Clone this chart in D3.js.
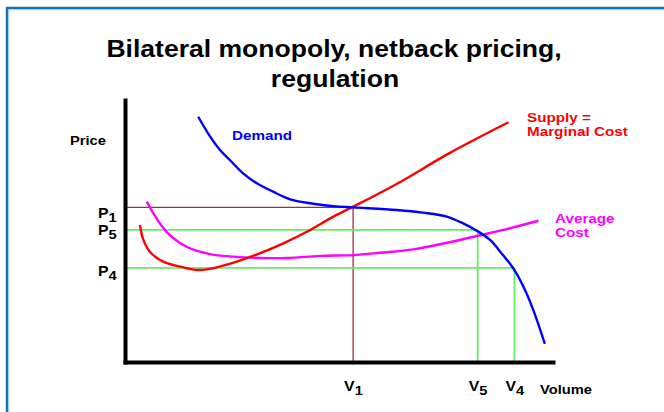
<!DOCTYPE html>
<html>
<head>
<meta charset="utf-8">
<script src="https://cdn.jsdelivr.net/npm/d3@7"></script>
<style>
  body { margin: 0; background: #fff; }
  svg { display: block; font-family: "Liberation Sans", Arial, sans-serif; }
  .lbl { font-weight: bold; }
</style>
</head>
<body>
<svg id="chart" width="664" height="412"></svg>
<script>
// curve points: [volume, price], both on a 0..100 scale
const demandPts = [
  [17.1, 93.6], [19.9, 86.0], [22.2, 80.9], [24.5, 77.1], [27.6, 72.0],
  [30.8, 68.2], [34.6, 65.0], [38.6, 62.1], [43.2, 60.6], [48.7, 59.5],
  [53.3, 59.0], [63.5, 58.0], [69.6, 57.0], [75.2, 55.5], [79.0, 52.9],
  [82.2, 50.1], [85.3, 46.6], [88.3, 40.8], [90.7, 35.8], [93.1, 28.7],
  [95.4, 19.8], [98.1, 6.9]
];
const supplyPts = [
  [3.5, 52.3], [4.3, 46.6], [5.8, 42.1], [8.9, 38.3], [12.9, 36.4],
  [17.1, 35.1], [20.6, 35.8], [26.1, 38.3], [31.5, 41.5], [37.0, 45.3],
  [42.5, 49.7], [48.7, 55.5], [53.3, 59.3], [57.2, 62.5], [64.3, 68.7],
  [75.9, 79.8], [89.6, 91.5]
];
const avgCostPts = [
  [5.1, 61.2], [6.6, 56.8], [9.7, 49.7], [14.4, 44.0], [19.9, 41.2],
  [25.3, 40.2], [31.5, 39.7], [37.8, 39.7], [45.6, 40.5], [53.3, 40.8],
  [59.6, 41.7], [67.4, 43.0], [75.2, 45.5], [82.2, 48.1], [88.4, 50.4],
  [96.6, 53.9]
];

// price / volume levels and the guide lines joining them
const priceNames = ['P1', 'P5', 'P4'];
const priceVals = [59.0, 50.4, 35.9];
const volumeNames = ['V1', 'V5', 'V4'];
const volumeVals = [53.3, 82.4, 91.0];
const guideColors = ['#993333', '#66ee66', '#66ee66'];

const svg = d3.select('#chart');
const STRETCH = 1.13; // the original text is a bit wide

// frame
svg.append('rect')
  .attr('x', 7).attr('y', 8).attr('width', 700).attr('height', 450)
  .attr('fill', 'none').attr('stroke', '#1874b4').attr('stroke-width', 2.5);
svg.append('rect')
  .attr('x', 8.8).attr('y', 9.8).attr('width', 700).attr('height', 450)
  .attr('fill', 'none').attr('stroke', '#8cc6ea').attr('stroke-width', 0.8);

function label(tx, ty, str, size, color, anchor) {
  return svg.append('text')
    .attr('transform', `translate(${tx},${ty}) scale(${STRETCH},1)`)
    .attr('class', 'lbl')
    .attr('text-anchor', anchor || 'start')
    .attr('fill', color || '#000')
    .style('font-size', size + 'px')
    .text(str);
}

// title
label(334, 57, 'Bilateral monopoly, netback pricing,', 23.5, '#000', 'middle');
label(335, 87, 'regulation', 23.5, '#000', 'middle');

const x = d3.scaleLinear().domain([0, 100]).range([125, 553]);
const y = d3.scaleLinear().domain([0, 100]).range([362, 100]);

// guide lines
priceVals.forEach((p, i) => {
  const g = svg.append('g').attr('stroke', guideColors[i])
    .attr('stroke-width', i === 0 ? 1.3 : 1.8);
  g.append('line')
    .attr('x1', x(0)).attr('y1', y(p))
    .attr('x2', x(volumeVals[i])).attr('y2', y(p));
  g.append('line')
    .attr('x1', x(volumeVals[i])).attr('y1', y(p))
    .attr('x2', x(volumeVals[i])).attr('y2', y(0));
});

const line = d3.line()
  .x(d => x(d[0]))
  .y(d => y(d[1]))
  .curve(d3.curveCatmullRom);

svg.append('path').datum(avgCostPts)
  .attr('d', line).attr('fill', 'none')
  .attr('stroke', '#ff00ff').attr('stroke-width', 2.4);
svg.append('path').datum(supplyPts)
  .attr('d', line).attr('fill', 'none')
  .attr('stroke', '#ff0000').attr('stroke-width', 2.4);
svg.append('path').datum(demandPts)
  .attr('d', line).attr('fill', 'none')
  .attr('stroke', '#0000ff').attr('stroke-width', 2.4);

// axes, no ticks
svg.append('g')
  .attr('transform', `translate(0,${y(0)})`)
  .call(d3.axisBottom(x).tickValues([]).tickSizeOuter(0));
svg.append('g')
  .attr('transform', `translate(${x(0)},0)`)
  .call(d3.axisLeft(y).tickValues([]).tickSizeOuter(0));
svg.selectAll('.domain')
  .attr('stroke', '#000').attr('stroke-width', 4)
  .attr('stroke-linecap', 'square');

// labels with subscripts
function subLabel(tx, ty, name) {
  const t = label(tx, ty, '', 14);
  t.append('tspan').text(name[0]);
  t.append('tspan').attr('dy', 4).style('font-size', '13px').text(name.slice(1));
}
const pLabelY = [218, 235, 276];
priceNames.forEach((n, i) => subLabel(98, pLabelY[i], n));
volumeNames.forEach((n, i) => subLabel(x(volumeVals[i]) - 9, 391, n));

label(540, 394, 'Volume', 13);
label(70, 145, 'Price', 13);

label(232, 140, 'Demand', 13.5, '#0000ff');

label(527, 122, 'Supply =', 13.5, '#ff0000');
label(527, 136, 'Marginal Cost', 13.5, '#ff0000');

label(555, 223, 'Average', 13.5, '#ff00ff');
label(555, 237, 'Cost', 13.5, '#ff00ff');
</script>
</body>
</html>
